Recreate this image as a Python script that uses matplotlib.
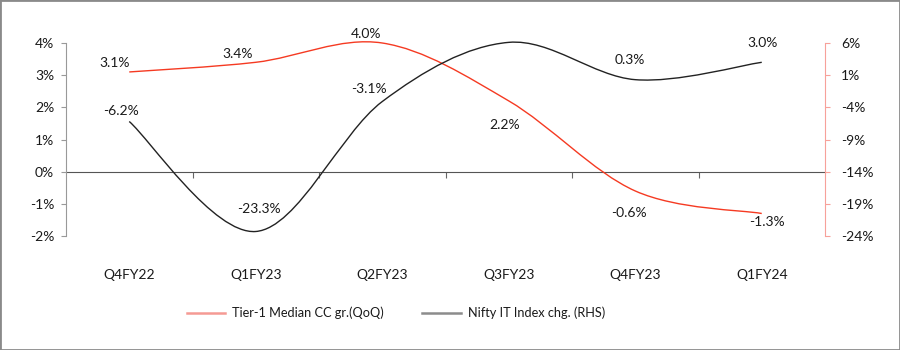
import numpy as np
import matplotlib
matplotlib.use("Agg")
import matplotlib.pyplot as plt
from matplotlib.path import Path
from matplotlib.patches import PathPatch, Rectangle
from matplotlib.lines import Line2D
from matplotlib.ticker import FuncFormatter, FixedLocator

plt.rcParams['font.family'] = ['Lato', 'DejaVu Sans']
plt.rcParams['font.size'] = 10

# データ
quarters = ['Q4FY22', 'Q1FY23', 'Q2FY23', 'Q3FY23', 'Q4FY23', 'Q1FY24']
tier1_cc = [3.1, 3.4, 4.0, 2.2, -0.6, -1.3]        # 左軸
nifty_it = [-6.2, -23.3, -3.1, 6.1, 0.3, 3.0]      # 右軸 (RHS)
left_ticks = [-2, -1, 0, 1, 2, 3, 4]
right_ticks = [-24, -19, -14, -9, -4, 1, 6]
name_red = 'Tier-1 Median CC gr.(QoQ)'
name_blk = 'Nifty IT Index chg. (RHS)'

RED = '#f53a22'
BLK = '#222222'
TXT = '#1a1a1a'

# ラベル位置のずれ (pixel)
off_red = [(-15, 9), (-18, 8), (-16, 9), (-4, -24), (-6, -22), (5, -9)]
off_blk = [(-8, 10), (3, 22), (-13, 13), (-10, 7), (-5, 20), (1, 19)]


def smooth_path(xs, ys):
    # Catmull-Rom -> Bezier (Excelのスムージング風)
    p = np.column_stack([xs, ys]).astype(float)
    n = len(p)
    verts = [p[0]]
    codes = [Path.MOVETO]
    for i in range(n - 1):
        p0 = p[i - 1] if i > 0 else p[i]
        p3 = p[i + 2] if i + 2 < n else p[i + 1]
        c1 = p[i] + (p[i + 1] - p0) / 6
        c2 = p[i + 1] - (p3 - p[i]) / 6
        verts += [c1, c2, p[i + 1]]
        codes += [Path.CURVE4] * 3
    return Path(verts, codes)


fig = plt.figure(figsize=(9, 3.5), dpi=100)
ax = fig.add_axes([66 / 900, 1 - 236 / 350, (825 - 66) / 900, (236 - 43) / 350])
ax2 = ax.twinx()

x = np.arange(len(quarters))
ax.set_xlim(-0.5, len(quarters) - 0.5)
ax.set_ylim(-2, 4)
ax2.set_ylim(-24, 6)

ax.add_patch(PathPatch(smooth_path(x, tier1_cc), fill=False, edgecolor=RED, lw=1.0,
                       zorder=3, clip_on=False))
ax2.add_patch(PathPatch(smooth_path(x, nifty_it), fill=False, edgecolor=BLK, lw=1.0,
                        zorder=3, clip_on=False))

for i, v in enumerate(tier1_cc):
    ax.annotate('%.1f%%' % v, (x[i], v), xytext=off_red[i], textcoords='offset pixels',
                ha='center', va='center', color=TXT, fontsize=10)
for i, v in enumerate(nifty_it):
    ax2.annotate('%.1f%%' % v, (x[i], v), xytext=off_blk[i], textcoords='offset pixels',
                 ha='center', va='center', color=TXT, fontsize=10)

# 軸
pct = FuncFormatter(lambda v, p: '%d%%' % round(v))
ax.set_yticks(left_ticks)
ax.yaxis.set_major_formatter(pct)
ax.tick_params(axis='y', length=3.6, width=0.8, color='#999999', pad=5, labelcolor=TXT, labelsize=10)
ax2.set_yticks(right_ticks)
ax2.yaxis.set_major_formatter(pct)
ax2.tick_params(axis='y', length=3.6, width=0.8, color='#f7a19a', pad=8, labelcolor=TXT, labelsize=10)

ax.set_xticks(x)
ax.set_xticklabels(quarters)
ax.tick_params(axis='x', length=0, pad=24, labelcolor=TXT, labelsize=10)

for s in ['top', 'right', 'bottom']:
    ax.spines[s].set_visible(False)
for s in ['top', 'left', 'bottom']:
    ax2.spines[s].set_visible(False)
ax.spines['left'].set_color('#999999')
ax.spines['left'].set_linewidth(0.8)
ax2.spines['right'].set_color('#f7a19a')
ax2.spines['right'].set_linewidth(0.8)

# 0%のライン
sec = ax.secondary_xaxis(0, transform=ax.transData)
sec.xaxis.set_major_locator(FixedLocator(x[:-1] + 0.5))
sec.set_xticklabels([])
sec.tick_params(axis='x', direction='out', length=4, width=0.8, color='#666666')
sec.spines['bottom'].set_color('#555555')
sec.spines['bottom'].set_linewidth(0.8)

handles = [Line2D([], [], color='#f59a94', lw=1.8), Line2D([], [], color='#8c8c8c', lw=1.8)]
fig.legend(handles, [name_red, name_blk], loc='center', bbox_to_anchor=(396 / 900, 1 - 313 / 350),
           ncol=2, frameon=False, fontsize=9.2, handlelength=3.0, handletextpad=0.55,
           columnspacing=3.0, labelcolor=TXT)

fig.patches.append(Rectangle((0, 0), 1, 1, transform=fig.transFigure, fill=False,
                             edgecolor='#8a8a8a', lw=2))

fig.savefig('out.png', dpi=100)
